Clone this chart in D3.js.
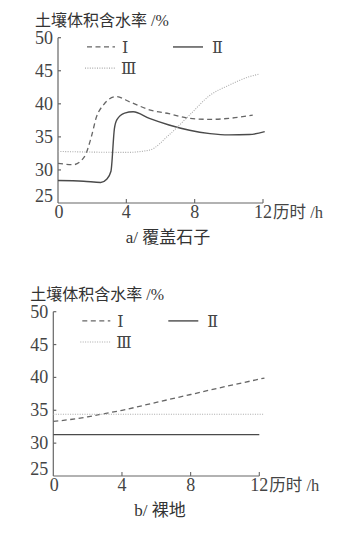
<!DOCTYPE html>
<html>
<head>
<meta charset="utf-8">
<script src="https://cdn.jsdelivr.net/npm/d3@7"></script>
<style>
  body { margin: 0; background: #fff; }
  svg { display: block; }
</style>
</head>
<body>
<svg id="chart" width="345" height="533"></svg>
<script>
// tick values shared by both panels
const xTicks = [0, 4, 8, 12];
const yTicks = [25, 30, 35, 40, 45, 50];
const yTitle = "土壤体积含水率 /%";
const xTitle = "历时 /h";
const seriesNames = ["Ⅰ", "Ⅱ", "Ⅲ"];

// panel a: covered with gravel  [hour, %]
const aSeriesI = [[0, 31.0], [0.9, 30.8], [1.55, 32.0], [1.95, 35.0], [2.25, 38.0], [2.65, 39.8],
  [3.4, 41.1], [4.2, 40.3], [5.35, 39.1], [6.5, 38.5], [7.7, 37.8], [8.9, 37.65], [10.0, 37.8], [11.4, 38.3]];
const aSeriesII = [[0, 28.4], [1.5, 28.3], [2.5, 28.1], [2.85, 28.6], [3.1, 29.8], [3.3, 36.2],
  [3.45, 37.6], [3.9, 38.6], [4.4, 38.8], [5.35, 37.8], [6.5, 36.8], [7.7, 36.0], [8.9, 35.5],
  [10.0, 35.3], [11.2, 35.35], [12.1, 35.8]];
const aSeriesIII = [[0, 32.8], [2.0, 32.7], [4.0, 32.65], [5.35, 33.0], [6.5, 35.3], [7.7, 38.3],
  [8.9, 41.3], [10.0, 42.8], [11.2, 44.1], [11.8, 44.5]];

// panel b: bare soil
const bSeriesI = [[0, 33.3], [1, 33.6], [2, 34.0], [3, 34.5], [4, 35.0], [6, 36.2], [8, 37.4],
  [10, 38.6], [12.3, 39.9]];
const bSeriesII = [[0, 31.3], [12, 31.3]];
const bSeriesIII = [[0, 34.4], [12.3, 34.4]];

const svg = d3.select("#chart");
const serif = "Liberation Serif";
const roman = "DejaVu Serif, Liberation Serif";
const cjk = "Liberation Serif, Noto Sans CJK SC";

const styles = [
  { stroke: "#666", width: 1.3, dash: "5,3.5" },
  { stroke: "#4a4a4a", width: 1.4, dash: null },
  { stroke: "#aaa", width: 1.1, dash: "1,1.4" }
];

function drawPanel(p) {
  const x = d3.scaleLinear().domain([0, 12]).range([p.left, p.right]);
  const y = d3.scaleLinear().domain([25, 50]).range([p.bottom, p.top]);
  const g = svg.append("g");

  // y title
  g.append("text")
    .attr("x", p.left - 23).attr("y", p.top - 12)
    .attr("font-family", cjk).attr("font-size", 16).attr("fill", "#333")
    .text(yTitle);

  // axes
  g.append("line")
    .attr("x1", x(0)).attr("x2", x(0)).attr("y1", y(50)).attr("y2", y(25))
    .attr("stroke", "#666").attr("stroke-width", 1.2);
  g.append("line")
    .attr("x1", x(0)).attr("x2", x(12)).attr("y1", y(25)).attr("y2", y(25))
    .attr("stroke", "#666").attr("stroke-width", 1.2);

  // y ticks (inside)
  yTicks.filter(d => d > 25).forEach(d => {
    g.append("line")
      .attr("x1", x(0)).attr("x2", x(0) + 3).attr("y1", y(d)).attr("y2", y(d))
      .attr("stroke", "#666").attr("stroke-width", 1.2);
  });
  yTicks.forEach(d => {
    g.append("text")
      .attr("x", x(0) - 5).attr("y", d === 25 ? y(d) - 1 : y(d) + 6)
      .attr("text-anchor", "end")
      .attr("font-family", serif).attr("font-size", 18).attr("fill", "#444")
      .text(d);
  });

  // x ticks (inside)
  xTicks.filter(d => d > 0).forEach(d => {
    g.append("line")
      .attr("x1", x(d)).attr("x2", x(d)).attr("y1", y(25)).attr("y2", y(25) - 4)
      .attr("stroke", "#666").attr("stroke-width", 1.1);
  });
  xTicks.forEach(d => {
    g.append("text")
      .attr("x", x(d) + (d === 0 ? 1 : 0)).attr("y", y(25) + 15)
      .attr("text-anchor", "middle")
      .attr("font-family", serif).attr("font-size", 18).attr("fill", "#444")
      .text(d);
  });
  g.append("text")
    .attr("x", x(12) + 10).attr("y", y(25) + 15)
    .attr("font-family", cjk).attr("font-size", 16.5).attr("fill", "#444")
    .text(xTitle);

  // caption
  g.append("text")
    .attr("x", p.captionX).attr("y", y(25) + 40)
    .attr("text-anchor", "middle")
    .attr("font-family", cjk).attr("font-size", 17).attr("fill", "#333")
    .text(p.caption);

  // series
  const line = d3.line()
    .x(d => x(d[0])).y(d => y(d[1]))
    .curve(d3.curveMonotoneX);
  p.series.forEach((s, i) => {
    g.append("path")
      .datum(s)
      .attr("d", line)
      .attr("fill", "none")
      .attr("stroke", styles[i].stroke)
      .attr("stroke-width", styles[i].width)
      .attr("stroke-dasharray", styles[i].dash);
  });

  // legend
  const leg = [
    { x1: x(0) + 29, x2: x(0) + 57, y: y(48.6), tx: x(0) + 64 },
    { x1: x(0) + 115, x2: x(0) + 145, y: y(48.6), tx: x(0) + 154 },
    { x1: x(0) + 27, x2: x(0) + 57, y: y(45.4), tx: x(0) + 63 }
  ];
  leg.forEach((l, i) => {
    g.append("line")
      .attr("x1", l.x1).attr("x2", l.x2).attr("y1", l.y).attr("y2", l.y)
      .attr("stroke", styles[i].stroke)
      .attr("stroke-width", styles[i].width)
      .attr("stroke-dasharray", styles[i].dash);
    g.append("text")
      .attr("x", l.tx).attr("y", l.y + 6)
      .attr("font-family", roman).attr("font-size", 16).attr("fill", "#444")
      .text(seriesNames[i]);
  });
}

drawPanel({
  left: 58, right: 263, top: 37.7, bottom: 203,
  caption: "a/ 覆盖石子", captionX: 168,
  series: [aSeriesI, aSeriesII, aSeriesIII]
});

drawPanel({
  left: 53.3, right: 259.3, top: 311.7, bottom: 476,
  caption: "b/ 裸地", captionX: 160,
  series: [bSeriesI, bSeriesII, bSeriesIII]
});
</script>
</body>
</html>
